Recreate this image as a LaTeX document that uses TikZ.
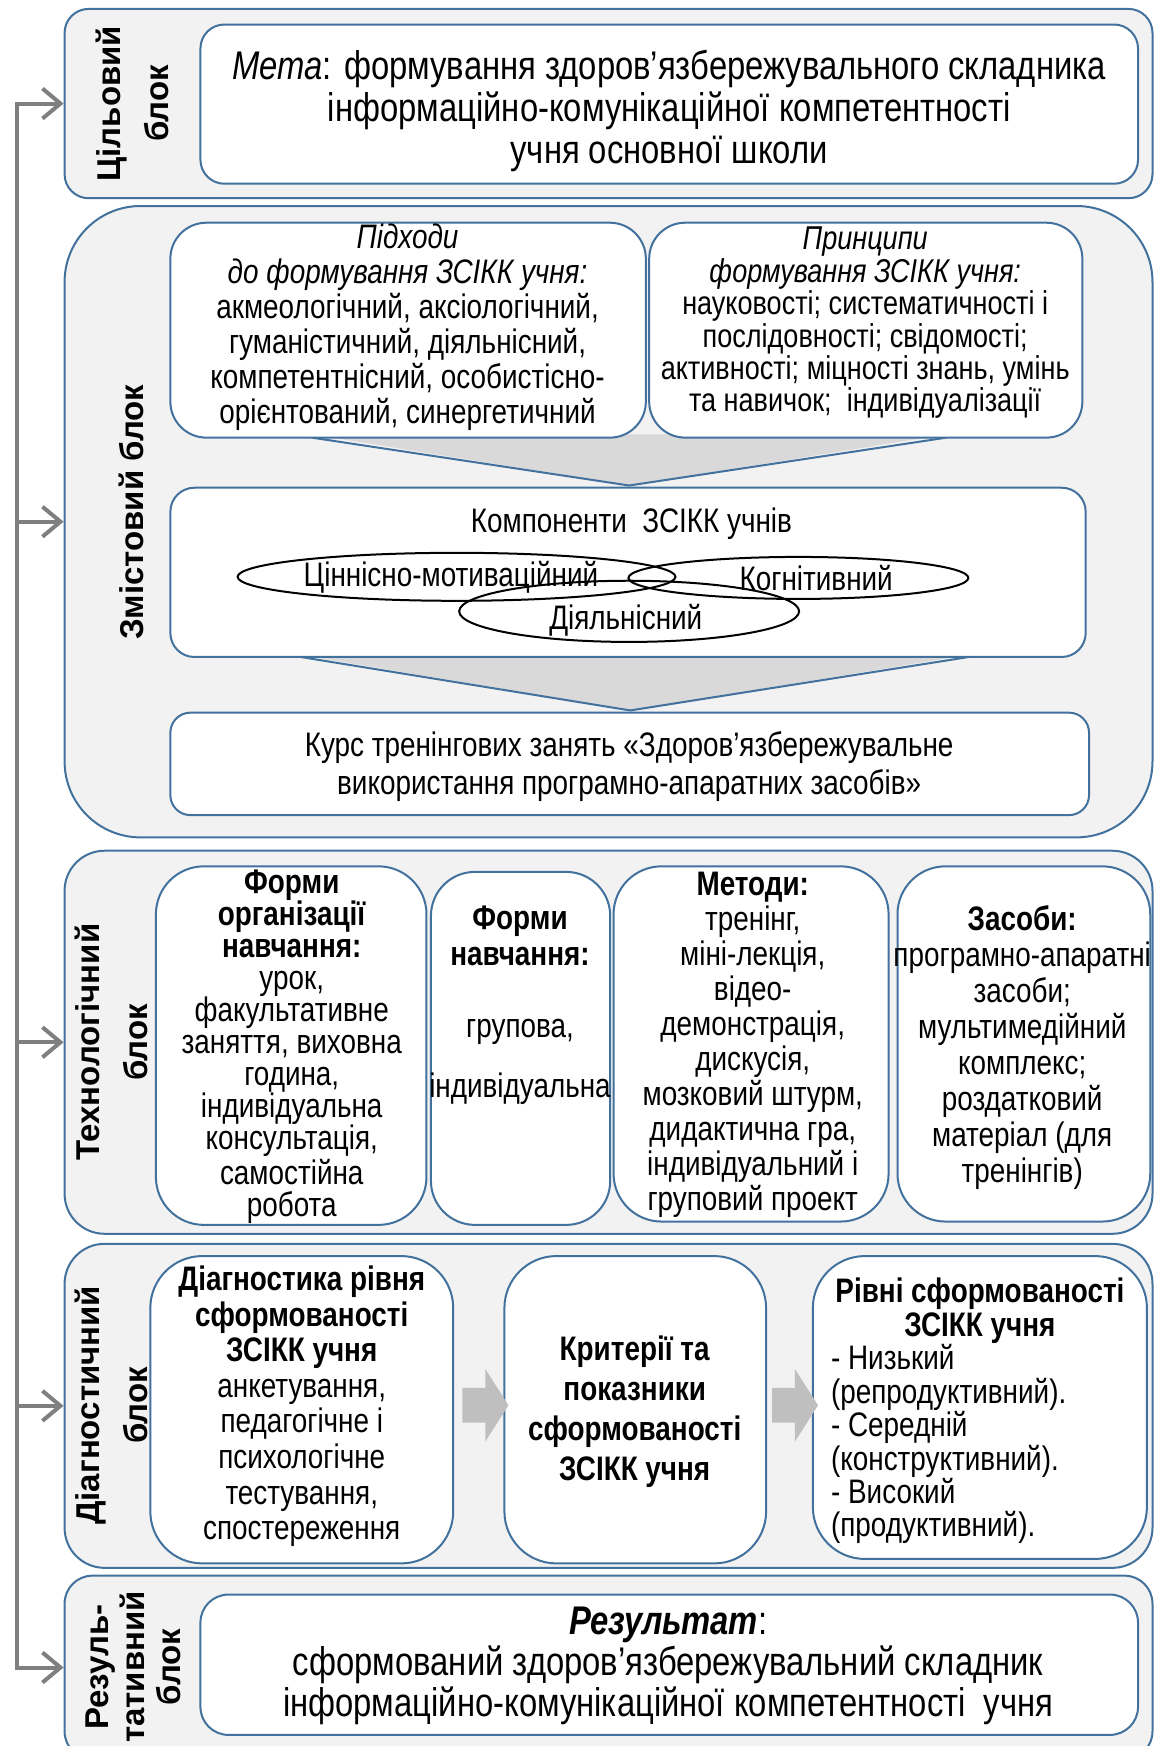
\documentclass[tikz,border=0pt]{standalone}
\usepackage{fontspec}
\setmainfont[FakeStretch=0.82]{Liberation Sans}
\newfontfamily\blockfont{Liberation Sans}
\usetikzlibrary{fit,shapes.geometric,shapes.arrows,arrows.meta}

\definecolor{frameblue}{HTML}{41719C}
\definecolor{panelgray}{HTML}{F2F2F2}
\definecolor{chevrongray}{HTML}{D9D9D9}
\definecolor{flowgray}{HTML}{BFBFBF}
\definecolor{spinegray}{HTML}{7F7F7F}

\newcommand\fsz[2]{\fontsize{#1}{#2}\selectfont}

\tikzset{
    block/.style={draw=frameblue, fill=panelgray, line width=1pt, inner sep=0pt, rounded corners=#1},
    block/.default=12pt,
    box/.style={draw=frameblue, fill=white, line width=1pt, inner sep=0pt, rounded corners=#1},
    box/.default=12pt,
    tag/.style={rotate=90, align=center, inner sep=0pt, font=\blockfont\bfseries\fsz{16.5}{24}},
    txt/.style={align=center, inner sep=0pt},
    oval/.style={ellipse, draw=black, line width=1pt, inner sep=0pt},
    flow/.style={single arrow, fill=flowgray, inner sep=8.5pt, minimum height=23pt,
        single arrow head extend=9.5pt, single arrow tip angle=115},
    spine/.style={draw=spinegray, line width=2pt},
    feed/.style={spine, -{Straight Barb[length=9pt, width=15pt]}}
}

\begin{document}
\begin{tikzpicture}[x=0.5569pt, y=-0.5569pt]
    \useasboundingbox (0,0) rectangle (1038,1568);

    % outer blocks
    \node[block=12pt, fit={(58,8) (1035,178)}] (goal-blk) {};
    \node[block=38pt, fit={(58,185) (1035,752)}] (content-blk) {};
    \node[block=20pt, fit={(58,764) (1035,1108)}] (tech-blk) {};
    \node[block=20pt, fit={(58,1117) (1035,1408)}] (diag-blk) {};
    \node[block=14pt, fit={(58,1415) (1035,1580)}] (result-blk) {};

    \node[tag] (goal-tag) at (119,93) {Цільовий\\блок};
    \node[tag] (content-tag) at (118,460) {Змістовий блок};
    \node[tag] (tech-tag) at (100,936) {Технологічний\\блок};
    \node[tag] (diag-tag) at (100,1262) {Діагностичний\\блок};
    \node[tag, font=\blockfont\bfseries\fsz{16.5}{18}] (result-tag) at (120,1497) {Резуль-\\тативний\\блок};

    % goal
    \node[box, fit={(180,22) (1022,165)}] (goal) {};
    \node[txt, font=\fsz{20}{21}] (goal-t) at (601,100) {\textit{Мета}: формування здоров’язбережувального складника\\інформаційно-комунікаційної компетентності\\учня основної школи};

    % content
    \fill[chevrongray] (280,390) -- (565,436) -- (850,390) -- cycle;
    \draw[frameblue, line width=1pt] (280,393) -- (565,436) -- (850,393);
    \fill[chevrongray] (270,588) -- (566,638) -- (870,588) -- cycle;
    \draw[frameblue, line width=1pt] (270,590) -- (566,638) -- (870,590);

    \node[box=18pt, fit={(153,200) (580,393)}] (appr) {};
    \node[box=18pt, fit={(583,200) (972,393)}] (princ) {};
    \node[box=12pt, fit={(153,438) (975,590)}] (comp) {};
    \node[box=10pt, fit={(153,640) (978,732)}] (course) {};

    \node[txt, font=\fsz{17}{17.5}] (appr-t) at (366,294) {\textit{Підходи}\\\textit{до формування ЗСІКК учня:}\\акмеологічний, аксіологічний,\\гуманістичний, діяльнісний,\\компетентнісний, особистісно-\\орієнтований, синергетичний};
    \node[txt, font=\fsz{16.5}{16.2}] (princ-t) at (777,290) {\textit{Принципи}\\\textit{формування ЗСІКК учня:}\\науковості; систематичності і\\послідовності; свідомості;\\активності; міцності знань, умінь\\та навичок;~ індивідуалізації};
    \node[txt, font=\fsz{17}{19}] (comp-t) at (567,470) {Компоненти~ ЗСІКК учнів};

    \node[oval, minimum width=219pt, minimum height=24pt] (value) at (410,518) {};
    \node[oval, minimum width=170pt, minimum height=21pt] (cogn) at (717,519) {};
    \node[oval, minimum width=170pt, minimum height=30.6pt] (activ) at (565,549) {};
    \node[txt, font=\fsz{17}{19}] (value-t) at (405,518) {Ціннісно-мотиваційний};
    \node[txt, font=\fsz{17}{19}] (cogn-t) at (733,519) {Когнітивний};
    \node[txt, font=\fsz{17}{19}] (activ-t) at (562,557) {Діяльнісний};

    \node[txt, font=\fsz{17}{19}] (course-t) at (565,688) {Курс тренінгових занять «Здоров’язбережувальне\\використання програмно-апаратних засобів»};

    % technology
    \node[box=24pt, fit={(140,778) (383,1100)}] (org) {};
    \node[box=22pt, fit={(387,783) (548,1100)}] (forms) {};
    \node[box=24pt, fit={(551,778) (798,1097)}] (methods) {};
    \node[box=24pt, fit={(806,778) (1033,1097)}] (means) {};

    \node[txt, font=\fsz{17}{16}] (org-t) at (262,940) {\textbf{Форми}\\\textbf{організації}\\\textbf{навчання:}\\урок,\\факультативне\\заняття, виховна\\година,\\індивідуальна\\консультація,\\самостійна\\робота};
    \node[txt, font=\fsz{17}{18}] (forms-t) at (467,903) {\textbf{Форми}\\\textbf{навчання:}\\[18pt]групова,\\[12pt]індивідуальна};
    \node[txt, font=\fsz{17}{17.5}] (methods-t) at (676,938) {\textbf{Методи:}\\тренінг,\\міні-лекція,\\відео-\\демонстрація,\\дискусія,\\мозковий штурм,\\дидактична гра,\\індивідуальний і\\груповий проект};
    \node[txt, font=\fsz{17}{18}] (means-t) at (918,941) {\textbf{Засоби:}\\програмно-апаратні\\засоби;\\мультимедійний\\комплекс;\\роздатковий\\матеріал (для\\тренінгів)};

    % diagnostics
    \node[box=26pt, fit={(135,1128) (407,1404)}] (diag1) {};
    \node[box=26pt, fit={(453,1128) (688,1404)}] (diag2) {};
    \node[box=26pt, fit={(730,1128) (1030,1400)}] (diag3) {};

    \node[flow] (flow1) at (431,1262) {};
    \node[flow] (flow2) at (709,1262) {};

    \node[txt, font=\fsz{17}{17.8}] (diag1-t) at (271,1263) {\textbf{Діагностика рівня}\\\textbf{сформованості}\\\textbf{ЗСІКК учня}\\анкетування,\\педагогічне і\\психологічне\\тестування,\\спостереження};
    \node[txt, font=\fsz{17}{20}] (diag2-t) at (570,1268) {\textbf{Критерії та}\\\textbf{показники}\\\textbf{сформованості}\\\textbf{ЗСІКК учня}};
    \node[txt, font=\fsz{17}{16.7}] (diag3-h) at (880,1177) {\textbf{Рівні сформованості}\\\textbf{ЗСІКК учня}};
    \node[txt, font=\fsz{17}{16.7}, align=left, anchor=west] (diag3-t) at (746,1297) {- Низький\\(репродуктивний).\\- Середній\\(конструктивний).\\- Високий\\(продуктивний).};

    % result
    \node[box=14pt, fit={(180,1432) (1022,1558)}] (result) {};
    \node[txt, font=\fsz{20}{20.6}] (result-t) at (600,1496) {\textbf{\textit{Результат}}:\\сформований здоров’язбережувальний складник\\інформаційно-комунікаційної компетентності~ учня};

    % feedback line
    \coordinate (s1) at (15,93);
    \coordinate (s2) at (s1 |- content-blk.west);
    \coordinate (s3) at (s1 |- tech-blk.west);
    \coordinate (s4) at (s1 |- diag-blk.west);
    \coordinate (s5) at (s1 |- result-blk.west);
    \draw[spine, line cap=rect] (s1) -- (s5);
    \foreach \s/\b in {s1/goal-blk, s2/content-blk, s3/tech-blk, s4/diag-blk, s5/result-blk}
        \draw[feed] (\s) -- (\b.west);

\end{tikzpicture}
\end{document}
